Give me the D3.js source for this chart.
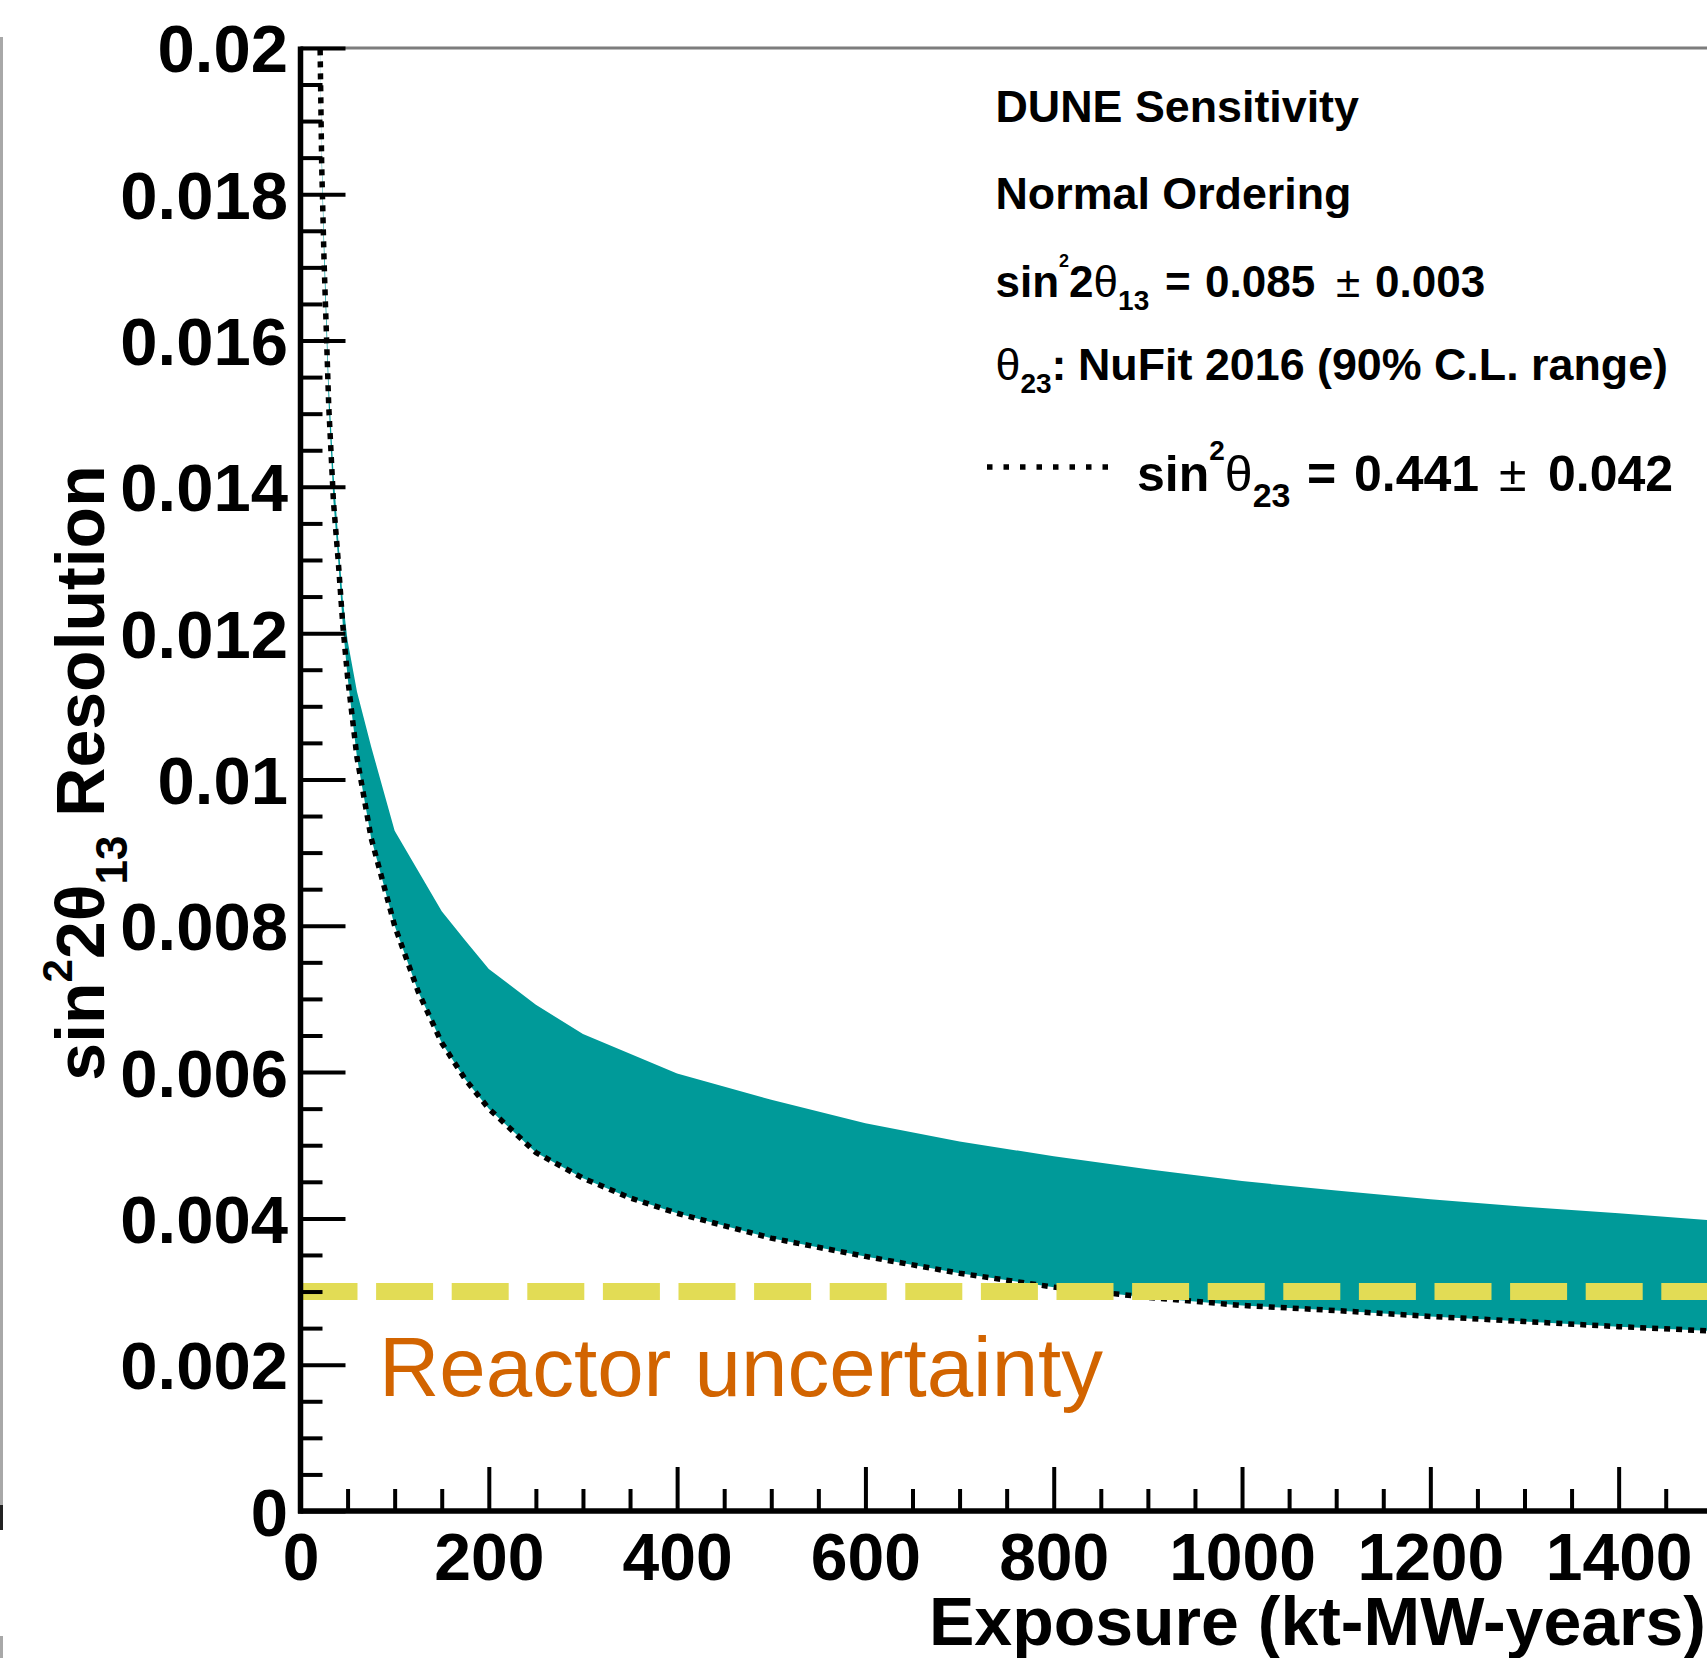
<!DOCTYPE html>
<html>
<head>
<meta charset="utf-8">
<script src="https://cdn.jsdelivr.net/npm/d3@7"></script>
<style>
  html, body { margin: 0; padding: 0; background: #fff; }
  svg { display: block; }
  text { font-family: "Liberation Sans", Arial, Helvetica, sans-serif; }
</style>
</head>
<body>
<svg id="chart" width="1707" height="1658"></svg>
<script>
// Exposure grid (kt-MW-years)
const exposure = [20, 22.5, 25, 30, 35, 40, 45, 50, 60, 75, 100, 125, 150, 175, 200,
                  250, 300, 350, 400, 500, 600, 700, 800, 900, 1000, 1100, 1200, 1300, 1400, 1500];
// sin^2(2 theta13) resolution, lower edge of the theta23 band (dotted curve)
const lowerEdge = [0.0208, 0.0184, 0.0171, 0.0151, 0.0138, 0.0130, 0.0121, 0.0114, 0.0103, 0.0092,
                   0.0080, 0.0071, 0.0064, 0.0059, 0.0055, 0.0049, 0.00455, 0.00428, 0.00407, 0.00373,
                   0.00348, 0.00325, 0.00306, 0.00292, 0.00281, 0.00274, 0.00266, 0.00259, 0.00252, 0.00246];
// upper edge of the theta23 band
const upperEdge = [0.0209, 0.0186, 0.0174, 0.0154, 0.0142, 0.0133, 0.01245, 0.0119, 0.0112, 0.01045,
                   0.0093, 0.00875, 0.0082, 0.0078, 0.00741, 0.00692, 0.00652, 0.00625, 0.00598, 0.00562,
                   0.0053, 0.00505, 0.00485, 0.00467, 0.00451, 0.00438, 0.00426, 0.00416, 0.00407, 0.00397];
// reactor constraint on sin^2(2 theta13)
const reactorUncertainty = 0.003;

const xTickValues = [0, 200, 400, 600, 800, 1000, 1200, 1400];
const xTickLabels = ["0", "200", "400", "600", "800", "1000", "1200", "1400"];
const yTickValues = [0, 0.002, 0.004, 0.006, 0.008, 0.01, 0.012, 0.014, 0.016, 0.018, 0.02];
const yTickLabels = ["0", "0.002", "0.004", "0.006", "0.008", "0.01", "0.012", "0.014", "0.016", "0.018", "0.02"];

(function draw() {
  const svg = d3.select("#chart");
  const W = 1707, H = 1658;
  const pLeft = 300.5, pRight = 1712.8, pTop = 47.9, pBottom = 1511;
  const fontStack = "'Liberation Sans', Arial, Helvetica, sans-serif";

  const x = d3.scaleLinear().domain([0, 1500]).range([pLeft, pRight]);
  const y = d3.scaleLinear().domain([0, 0.02]).range([pBottom, pTop]);

  // edge of the neighbouring panel
  svg.append("line").attr("x1", 1.5).attr("x2", 1.5).attr("y1", 37).attr("y2", 1505)
    .attr("stroke", "#a8a8a8").attr("stroke-width", 3);
  svg.append("line").attr("x1", 1.5).attr("x2", 1.5).attr("y1", 1505).attr("y2", 1530)
    .attr("stroke", "#222").attr("stroke-width", 3);
  svg.append("line").attr("x1", 1.5).attr("x2", 1.5).attr("y1", 1636).attr("y2", H)
    .attr("stroke", "#a8a8a8").attr("stroke-width", 3);

  svg.append("defs").append("clipPath").attr("id", "plotClip")
    .append("rect").attr("x", pLeft).attr("y", pTop)
    .attr("width", pRight - pLeft).attr("height", pBottom - pTop);

  const band = exposure.map((e, i) => ({ e, lo: lowerEdge[i], hi: upperEdge[i] }));
  const plot = svg.append("g").attr("clip-path", "url(#plotClip)");

  // theta23 band
  plot.append("path").datum(band)
    .attr("fill", "#009a99")
    .attr("d", d3.area().x(d => x(d.e)).y0(d => y(d.lo)).y1(d => y(d.hi)));

  // dotted edge
  plot.append("path").datum(band)
    .attr("fill", "none").attr("stroke", "#000").attr("stroke-width", 5.5)
    .attr("stroke-dasharray", "6 6")
    .attr("d", d3.line().x(d => x(d.e)).y(d => y(d.lo)));

  // reactor line
  plot.append("line")
    .attr("x1", x(0)).attr("x2", x(1500))
    .attr("y1", y(reactorUncertainty)).attr("y2", y(reactorUncertainty))
    .attr("stroke", "#e2dc55").attr("stroke-width", 17)
    .attr("stroke-dasharray", "57 18.6");

  // top frame
  svg.append("line").attr("x1", pLeft).attr("x2", W).attr("y1", pTop).attr("y2", pTop)
    .attr("stroke", "#7d7d7d").attr("stroke-width", 3);

  // y axis
  const yMinor = d3.range(0, 41).filter(i => i % 4 !== 0).map(i => i * 0.0005);
  const yAxisMajor = d3.axisLeft(y).tickValues(yTickValues)
    .tickFormat((d, i) => yTickLabels[i]).tickSizeInner(-45).tickSizeOuter(0).tickPadding(12.5);
  const yAxisMinor = d3.axisLeft(y).tickValues(yMinor).tickFormat("").tickSizeInner(-22).tickSizeOuter(0);

  const gyMinor = svg.append("g").attr("transform", `translate(${pLeft},0)`).call(yAxisMinor);
  const gy = svg.append("g").attr("transform", `translate(${pLeft},0)`).call(yAxisMajor);
  [gy, gyMinor].forEach(g => {
    g.select(".domain").remove();
    g.selectAll(".tick line").attr("stroke", "#000").attr("stroke-width", 4);
  });
  gy.selectAll(".tick text")
    .attr("font-size", 67).attr("font-weight", "bold").attr("fill", "#000")
    .attr("dy", "0.358em")
    .style("font-family", fontStack);

  // x axis
  const xMinor = d3.range(0, 31).filter(i => i % 4 !== 0).map(i => i * 50);
  const xAxisMajor = d3.axisBottom(x).tickValues(xTickValues)
    .tickFormat((d, i) => xTickLabels[i]).tickSizeInner(-44).tickSizeOuter(0).tickPadding(22);
  const xAxisMinor = d3.axisBottom(x).tickValues(xMinor).tickFormat("").tickSizeInner(-22).tickSizeOuter(0);

  const gxMinor = svg.append("g").attr("transform", `translate(0,${pBottom})`).call(xAxisMinor);
  const gx = svg.append("g").attr("transform", `translate(0,${pBottom})`).call(xAxisMajor);
  [gx, gxMinor].forEach(g => {
    g.select(".domain").remove();
    g.selectAll(".tick line").attr("stroke", "#000").attr("stroke-width", 4);
  });
  gx.selectAll(".tick text")
    .attr("font-size", 66).attr("font-weight", "bold").attr("fill", "#000")
    .attr("y", 0).attr("dy", 69)
    .style("font-family", fontStack);

  // axis lines
  svg.append("line").attr("x1", pLeft).attr("x2", pLeft).attr("y1", pTop - 1.5).attr("y2", pBottom + 2.5)
    .attr("stroke", "#000").attr("stroke-width", 5.5);
  svg.append("line").attr("x1", pLeft - 2.5).attr("x2", W).attr("y1", pBottom).attr("y2", pBottom)
    .attr("stroke", "#000").attr("stroke-width", 5.5);

  // rich text helper: pieces = [text, {attrs}]
  function richText(g, attrs, pieces) {
    const t = g.append("text");
    Object.entries(attrs).forEach(([k, v]) => t.attr(k, v));
    pieces.forEach(([s, a]) => {
      const ts = t.append("tspan").text(s);
      Object.entries(a || {}).forEach(([k, v]) => ts.attr(k, v));
    });
    return t;
  }

  // axis titles
  svg.append("text")
    .attr("x", 1706).attr("y", 1645).attr("text-anchor", "end")
    .attr("font-size", 68).attr("font-weight", "bold")
    .text("Exposure (kt-MW-years)");

  richText(svg, { transform: "translate(104,773) rotate(-90)", "text-anchor": "middle",
                  "font-size": 68, "font-weight": "bold" }, [
    ["sin"],
    ["2", { "font-size": 42, dy: -32 }],
    ["2", { dy: 32 }],
    ["θ"],
    ["13", { "font-size": 44, dy: 23 }],
    [" Resolution", { dy: -23 }]
  ]);

  // annotation block
  const note = svg.append("g").attr("font-weight", "bold").attr("fill", "#000");
  note.append("text").attr("x", 995.5).attr("y", 121.7).attr("font-size", 44.8).text("DUNE Sensitivity");
  note.append("text").attr("x", 995.5).attr("y", 209).attr("font-size", 44.8).text("Normal Ordering");

  richText(note, { x: 995.5, y: 296.7, "font-size": 44 }, [
    ["sin"],
    ["2", { "font-size": 18, dy: -30 }],
    ["2", { dy: 30 }],
    ["θ", { "font-weight": "normal" }],
    ["13", { "font-size": 28, dy: 13 }],
    ["=", { x: 1165, y: 296.7 }],
    ["0.085", { x: 1205 }],
    ["±", { x: 1336, "font-weight": "normal" }],
    ["0.003", { x: 1375 }]
  ]);

  richText(note, { x: 995.5, y: 380, "font-size": 44.8 }, [
    ["θ", { "font-weight": "normal" }],
    ["23", { "font-size": 28, dy: 13 }],
    [":", { dy: -13 }],
    ["NuFit 2016 (90% C.L. range)", { x: 1078 }]
  ]);

  // legend entry
  svg.append("line").attr("x1", 987).attr("x2", 1114).attr("y1", 467).attr("y2", 467)
    .attr("stroke", "#000").attr("stroke-width", 5.5).attr("stroke-dasharray", "5.5 11");
  richText(note, { x: 1137, y: 491, "font-size": 50 }, [
    ["sin"],
    ["2", { "font-size": 28, dy: -31 }],
    ["θ", { dy: 31, "font-weight": "normal" }],
    ["23", { "font-size": 34, dy: 16 }],
    ["=", { x: 1307, y: 491 }],
    ["0.441", { x: 1354 }],
    ["±", { x: 1499, "font-weight": "normal" }],
    ["0.042", { x: 1548 }]
  ]);

  // reactor label
  svg.append("text").attr("x", 379).attr("y", 1396)
    .attr("font-size", 83.5).attr("fill", "#d26400")
    .text("Reactor uncertainty");
})();
</script>
</body>
</html>
